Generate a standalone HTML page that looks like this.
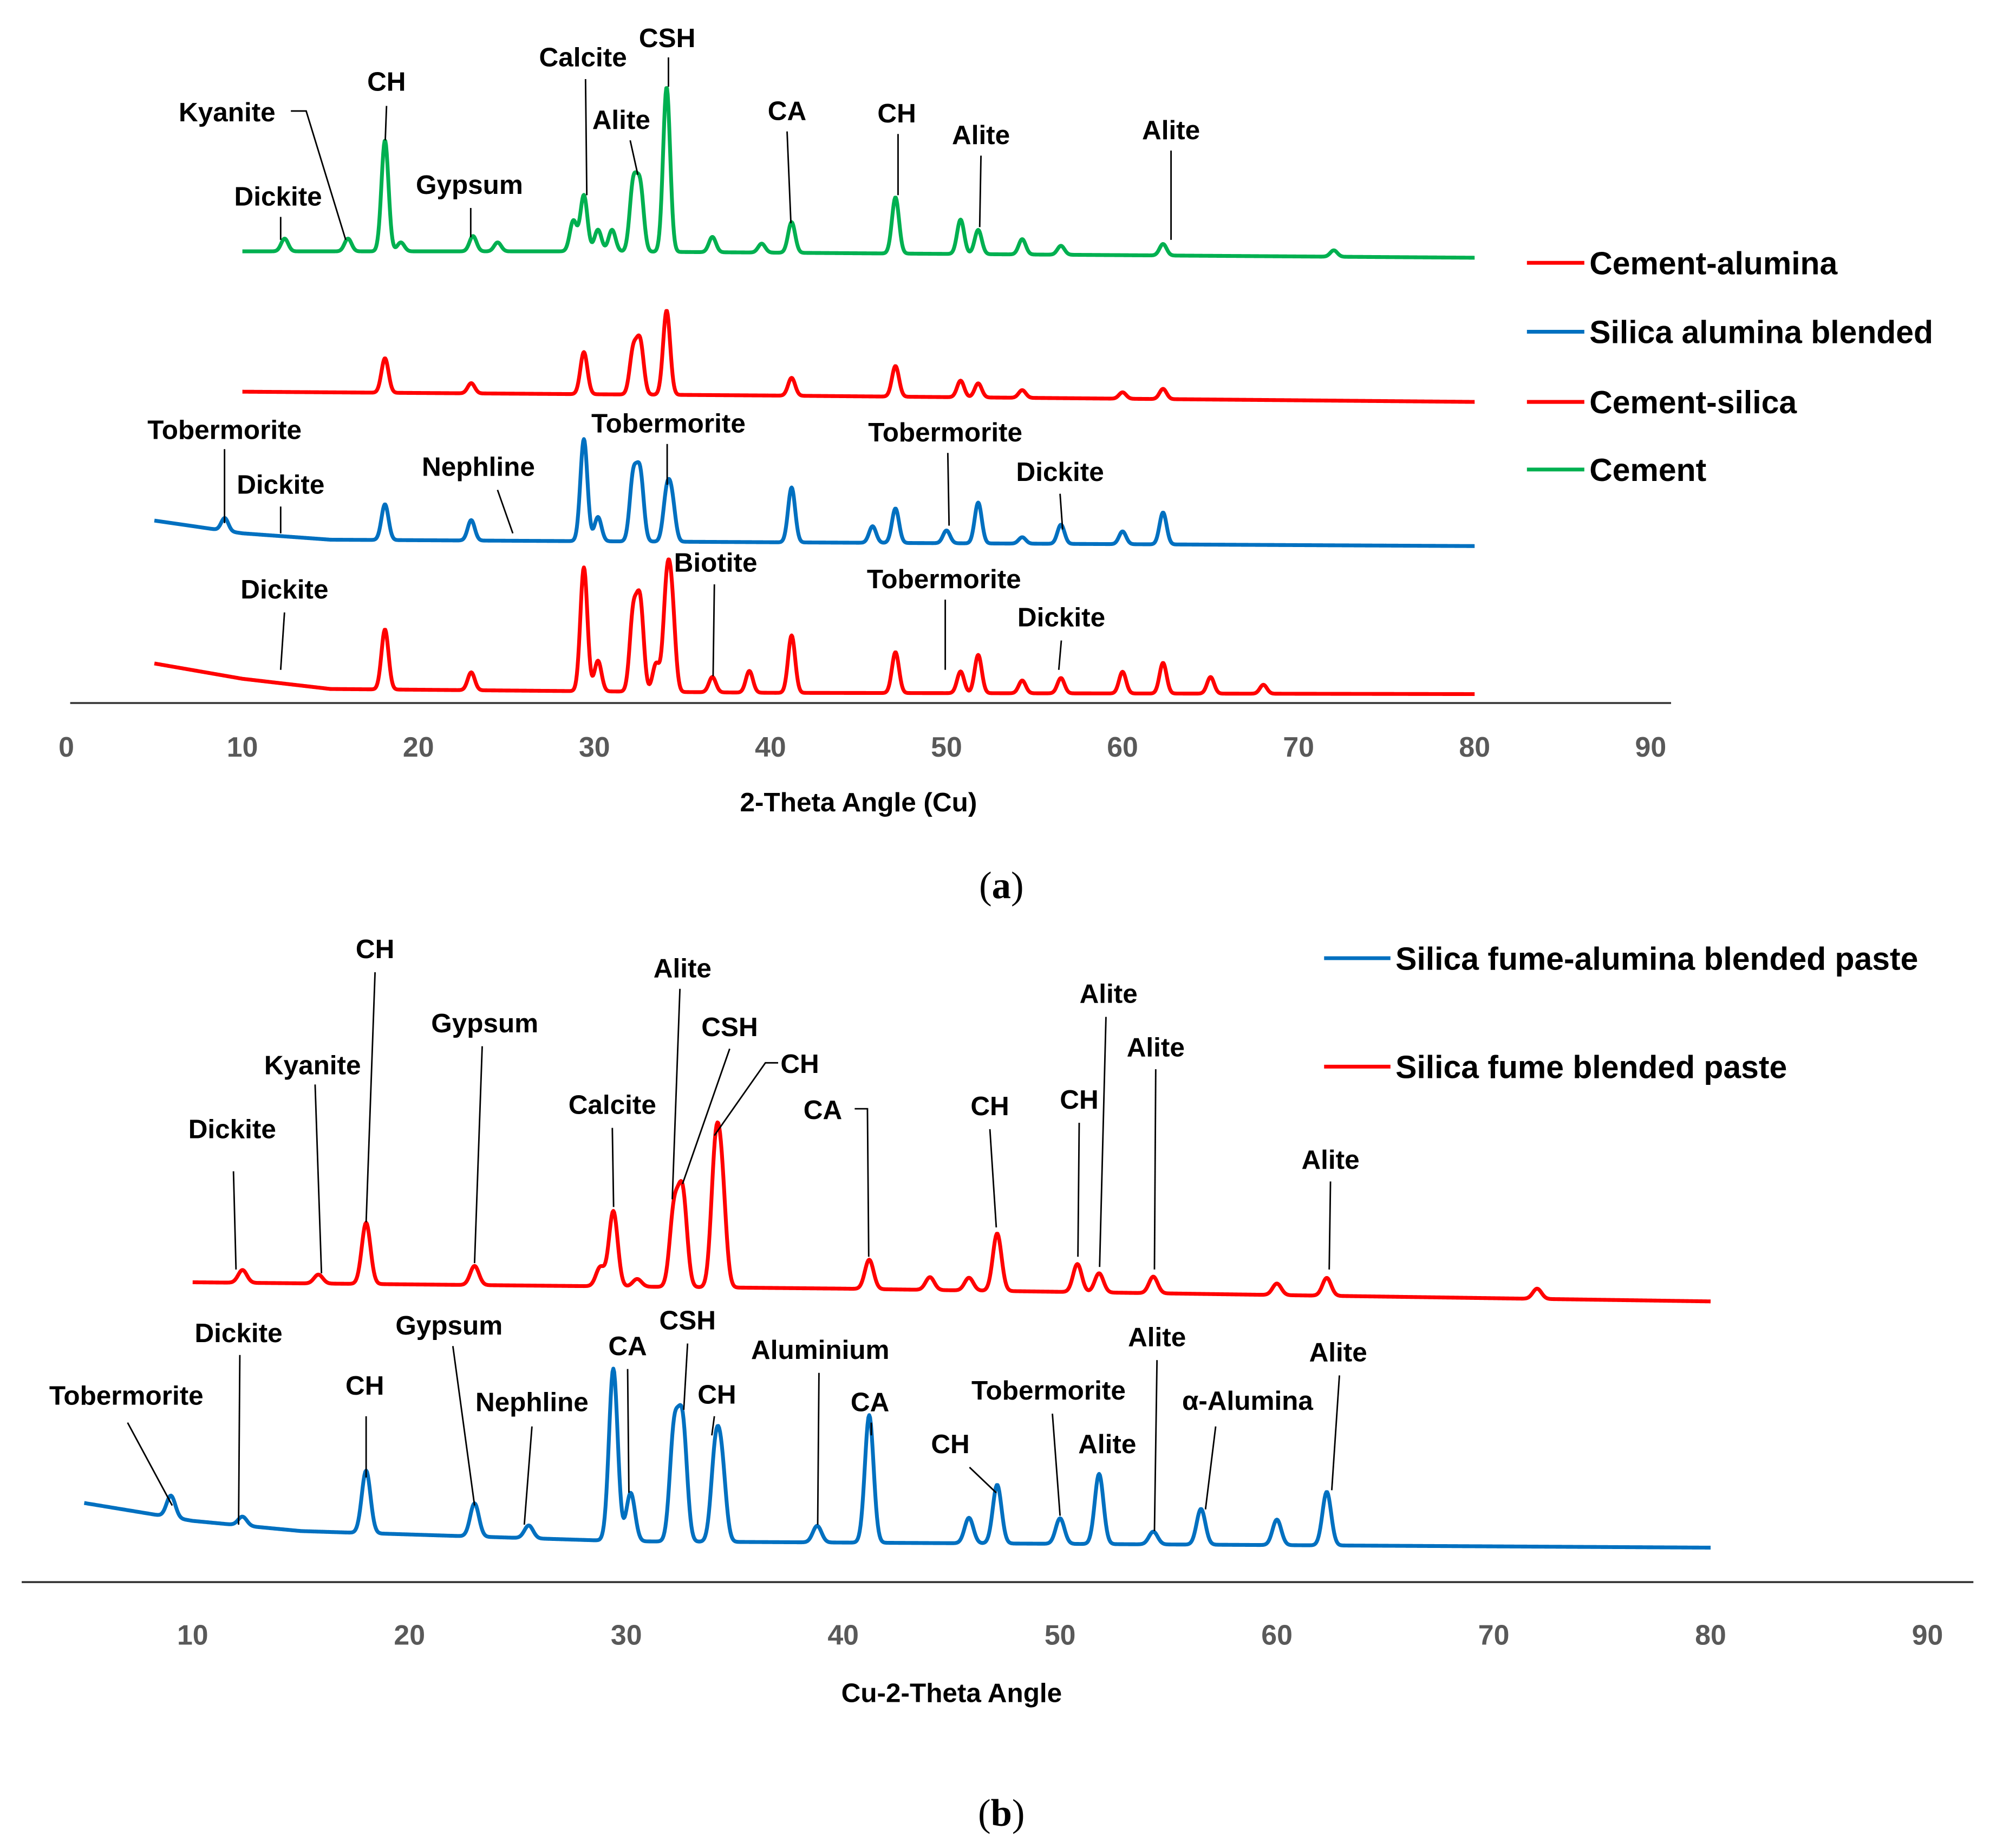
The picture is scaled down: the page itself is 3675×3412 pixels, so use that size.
<!DOCTYPE html>
<html><head><meta charset="utf-8">
<style>
html,body{margin:0;padding:0;background:#fff;}
svg{display:block;}
text{font-family:"Liberation Sans",sans-serif;font-weight:bold;}
</style></head>
<body>
<svg id="chart" width="3675" height="3412" viewBox="0 0 1560 1448.4" xmlns="http://www.w3.org/2000/svg">
<rect width="1560" height="1449" fill="#fff"/>
<g id="panelA"></g>
<g id="panelB"></g>
</svg>
<script>
// ---------- DATA ----------
const ticksA = [0,10,20,30,40,50,60,70,80,90];
const ticksB = [10,20,30,40,50,60,70,80,90];
const baseCement = [[10,197],[30,197],[80,202]];
const peaksCement = [[12.4,10],[16,10],[18.1,87],[19,7],[23.1,12],[24.5,7],[28.8,24],[29.4,44],[30.2,17],[31,17],[32.2,52],[32.6,50],[34.1,129],[36.7,12],[39.5,7],[41.2,24],[47.1,44],[50.8,27],[51.8,19],[54.3,12],[56.5,7],[62.3,9],[72,5]];
const baseCA = [[10,307],[40,310],[80,315]];
const peaksCA = [[18.1,27],[23,8],[29.4,33],[32.2,34],[32.6,40],[34.1,66],[41.2,14],[47.1,24],[50.8,13],[51.8,11],[54.3,6],[60,5],[62.3,8]];
const baseSAB = [[5,408],[10,418],[15,423],[40,425],[80,428]];
const peaksSAB = [[9,10],[18.1,28],[23,16],[29.4,80],[30.2,19],[32.2,50],[32.6,52],[34.1,35],[34.4,30],[41.2,43],[45.8,13],[47.1,27],[50,10],[51.8,32],[54.3,5],[56.5,15],[60,10],[62.3,25]];
const baseCS = [[5,520],[10,532],[15,540],[40,543],[80,544]];
const peaksCS = [[18.1,47],[23,14],[29.4,97],[30.2,24],[32.2,60],[32.6,68],[33.5,22],[34.1,75],[34.4,62],[36.7,12],[38.8,17],[41.2,45],[47.1,32],[50.8,17],[51.8,30],[54.3,10],[56.5,12],[60,17],[62.3,24],[65,13],[68,7]];
const baseSFB = [[10,1005],[40,1010],[80,1020]];
const peaksSFB = [[12.3,10],[15.8,7],[18,48],[23,15],[28.8,15],[29.4,59],[30.5,6],[32.2,60],[32.6,72],[34.1,95],[34.4,75],[41.2,23],[44,10],[45.8,10],[47.1,45],[50.8,22],[51.8,15],[54.3,13],[60,9],[62.3,14],[72,8]];
const baseSFAB = [[5,1178],[10,1192],[15,1200],[30,1208],[80,1213]];
const peaksSFAB = [[9,17],[12.3,7],[18,49],[23,26],[25.5,10],[29.4,135],[30.2,38],[32.2,85],[32.6,90],[34.1,65],[34.4,55],[38.8,13],[41.2,100],[45.8,20],[47.1,46],[50,20],[51.8,55],[54.3,10],[56.5,28],[60,20],[62.3,42]];

const annA = [
 ["Kyanite",178,87,[[228,87],[240,87],[271,188]]],
 ["CH",303,63,[[303,83],[302,110]]],
 ["Dickite",218,153,[[220,170],[220,188]]],
 ["Gypsum",368,144,[[369,163],[369,186]]],
 ["Calcite",457,44,[[459,62],[460,153]]],
 ["CSH",523,29,[[524,45],[524,68]]],
 ["Alite",487,93,[[494,110],[500,137]]],
 ["CA",617,86,[[617,103],[620,175]]],
 ["CH",703,88,[[704,105],[704,153]]],
 ["Alite",769,105,[[769,122],[768,178]]],
 ["Alite",918,101,[[918,118],[918,188]]],
 ["Tobermorite",176,336,[[176,352],[176,410]]],
 ["Dickite",220,379,[[220,397],[220,418]]],
 ["Nephline",375,365,[[390,384],[402,418]]],
 ["Tobermorite",524,331,[[523,348],[523,380]]],
 ["Tobermorite",741,338,[[743,355],[744,412]]],
 ["Dickite",831,369,[[831,387],[833,415]]],
 ["Dickite",223,461,[[223,480],[220,525]]],
 ["Biotite",561,440,[[560,458],[559,530]]],
 ["Tobermorite",740,453,[[741,470],[741,525]]],
 ["Dickite",832,483,[[832,502],[830,525]]]
];
const annB = [
 ["CH",294,743,[[294,762],[287,958]]],
 ["Kyanite",245,834,[[247,850],[252,998]]],
 ["Dickite",182,884,[[183,918],[185,995]]],
 ["Gypsum",380,801,[[378,820],[372,990]]],
 ["Calcite",480,865,[[480,884],[481,946]]],
 ["Alite",535,758,[[533,775],[527,940]]],
 ["CSH",572,804,[[572,822],[535,928]]],
 ["CH",627,833,[[610,833],[600,833],[560,890]]],
 ["CA",645,869,[[670,869],[680,869],[681,985]]],
 ["CH",776,866,[[776,885],[781,962]]],
 ["CH",846,861,[[846,880],[845,985]]],
 ["Alite",869,778,[[867,797],[862,993]]],
 ["Alite",906,820,[[906,838],[905,995]]],
 ["Alite",1043,908,[[1043,926],[1042,995]]],
 ["Tobermorite",99,1093,[[100,1115],[135,1180]]],
 ["Dickite",187,1044,[[188,1062],[187,1195]]],
 ["CH",286,1085,[[287,1110],[287,1158]]],
 ["Gypsum",352,1038,[[355,1055],[372,1180]]],
 ["Nephline",417,1098,[[417,1118],[411,1195]]],
 ["CA",492,1054,[[492,1073],[493,1170]]],
 ["CSH",539,1034,[[539,1053],[536,1105]]],
 ["Aluminium",643,1057,[[642,1076],[641,1195]]],
 ["CH",562,1092,[[560,1110],[558,1125]]],
 ["CA",682,1098,[[683,1115],[683,1125]]],
 ["CH",745,1131,[[760,1150],[781,1170]]],
 ["Tobermorite",822,1089,[[825,1108],[831,1188]]],
 ["Alite",907,1047,[[907,1066],[905,1200]]],
 ["Alite",868,1131,[]],
 ["α-Alumina",978,1097,[[953,1118],[945,1183]]],
 ["Alite",1049,1059,[[1050,1078],[1044,1168]]]
];

// ---------- DRAW ----------
const NS="http://www.w3.org/2000/svg";
function mk(tag,attrs,parent){const e=document.createElementNS(NS,tag);for(const k in attrs)e.setAttribute(k,attrs[k]);parent.appendChild(e);return e;}
const xA = v => 52 + 13.8*v;
const xB = v => -19 + 17*v;
function baseAt(knots,t){
  if(t<=knots[0][0])return knots[0][1];
  for(let i=1;i<knots.length;i++){if(t<=knots[i][0]){const a=knots[i-1],b=knots[i];return a[1]+(b[1]-a[1])*(t-a[0])/(b[0]-a[0]);}}
  return knots[knots.length-1][1];
}
function drawSeries(g,xf,base,peaks,t0,t1,color,name){
  let d="";
  for(let t=t0;t<=t1+1e-9;t+=0.04){
    let y=baseAt(base,t);
    for(const p of peaks){const s=0.2;y-=p[1]*Math.exp(-((t-p[0])**2)/(2*s*s));}
    d+=(d?"L":"M")+xf(t).toFixed(2)+","+y.toFixed(2);
  }
  const e=mk("path",{d:d,fill:"none",stroke:color,"stroke-width":3,"stroke-linejoin":"round"},g);
  
  
}
function drawAnn(g,list,prefix){
  list.forEach((a,i)=>{
    const t=mk("text",{x:a[1],y:a[2]+8,"text-anchor":"middle","font-size":21,fill:"#000"},g);
    t.textContent=a[0];
    
    
    if(a[3].length>1){
      const l=mk("polyline",{points:a[3].map(p=>p.join(",")).join(" "),fill:"none",stroke:"#000","stroke-width":1.2},g);
      
      
    }
  });
}
function drawAxis(g,xf,ticks,x0,x1,y,ty,title,tx,tyT,prefix){
  const ax=mk("line",{x1:x0,x2:x1,y1:y,y2:y,stroke:"#333","stroke-width":1.5},g);
  
  
  ticks.forEach(v=>{
    const t=mk("text",{x:xf(v),y:ty,"text-anchor":"middle","font-size":22,fill:"#595959"},g);
    t.textContent=v;
    
    
  });
  const tt=mk("text",{x:tx,y:tyT,"text-anchor":"middle","font-size":21,fill:"#000"},g);
  tt.textContent=title;
  
  
}
function legend(g,x,items,prefix,len){
  items.forEach(it=>{
    const l=mk("line",{x1:x,x2:x+len,y1:it[2],y2:it[2],stroke:it[1],"stroke-width":3},g);
    
    
    const t=mk("text",{x:x+len+4,y:it[2]+9,"font-size":25,fill:"#000"},g);
    t.textContent=it[0];
    
    
  });
}
function caption(txt,x,y,name){
  const t=mk("text",{x:x,y:y,"text-anchor":"middle","font-size":30,fill:"#000",style:"font-family:'Liberation Serif',serif;font-weight:normal"},document.getElementById("chart"));
  t.innerHTML=txt;
  
  
}
const RED="#ff0000",BLUE="#0070c0",GREEN="#00b050";
const gA=document.getElementById("panelA");
drawSeries(gA,xA,baseCement,peaksCement,10,80,GREEN,"series-cement");
drawSeries(gA,xA,baseCA,peaksCA,10,80,RED,"series-cement-alumina");
drawSeries(gA,xA,baseSAB,peaksSAB,5,80,BLUE,"series-silica-alumina-blended");
drawSeries(gA,xA,baseCS,peaksCS,5,80,RED,"series-cement-silica");
drawAxis(gA,xA,ticksA,55,1310,551,593,"2-Theta Angle (Cu)",673,636,"a");
drawAnn(gA,annA,"a");
legend(gA,1197,[["Cement-alumina",RED,206],["Silica alumina blended",BLUE,260],["Cement-silica",RED,315],["Cement",GREEN,368]],"a",45);
caption("(<tspan style='font-weight:bold'>a</tspan>)",785,704,"caption-a");

const gB=document.getElementById("panelB");
drawSeries(gB,xB,baseSFB,peaksSFB,10,80,RED,"series-silica-fume-blended");
drawSeries(gB,xB,baseSFAB,peaksSFAB,5,80,BLUE,"series-silica-fume-alumina-blended");
drawAxis(gB,xB,ticksB,17,1547,1240,1289,"Cu-2-Theta Angle",746,1334,"b");
drawAnn(gB,annB,"b");
legend(gB,1038,[["Silica fume-alumina blended paste",BLUE,751],["Silica fume blended paste",RED,836]],"b",52);
caption("(<tspan style='font-weight:bold'>b</tspan>)",785,1431,"caption-b");
</script>
</body></html>
